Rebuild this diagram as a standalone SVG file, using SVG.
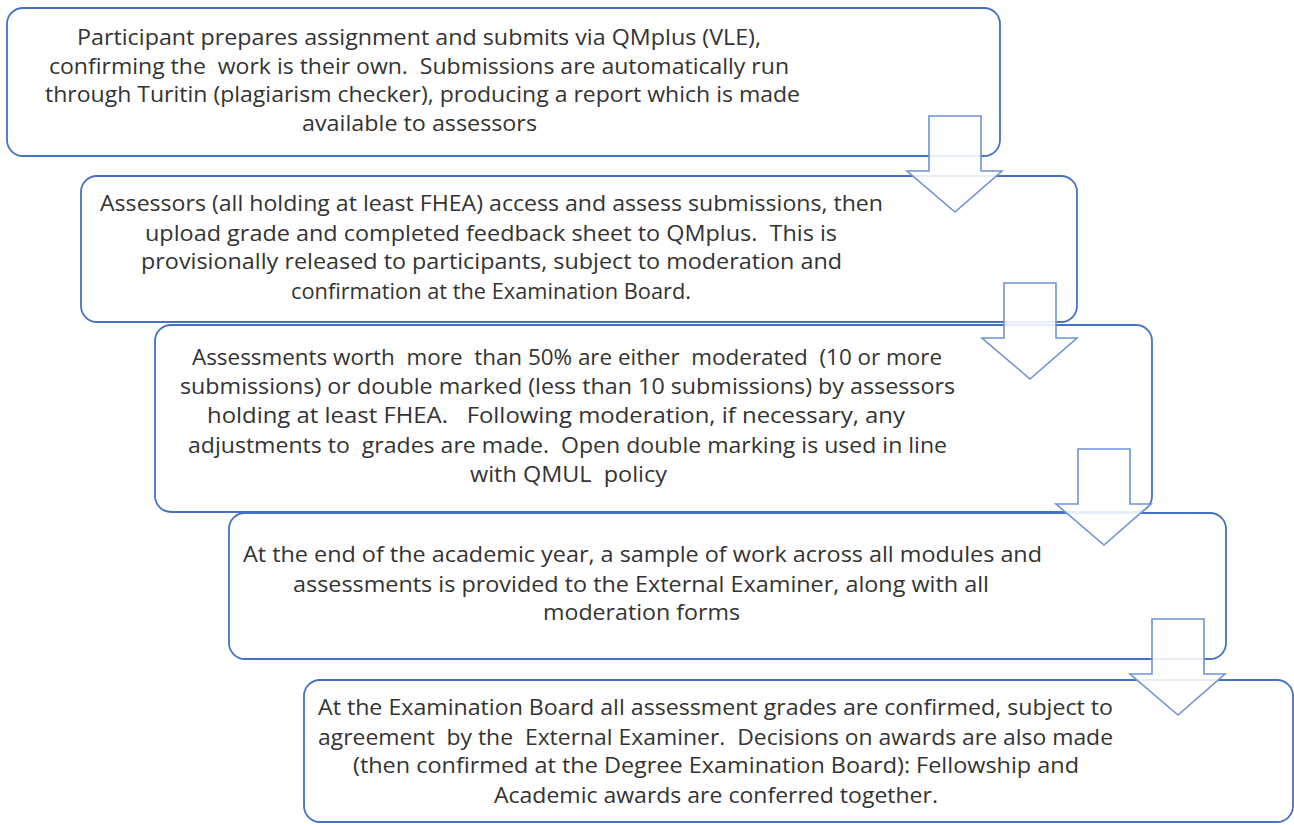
<svg xmlns="http://www.w3.org/2000/svg" width="1294" height="825" viewBox="0 0 1294 825">
<defs>
<style>
.box{fill:#ffffff;stroke:#4472C4;stroke-width:1.8}
.t{font-family:"Open Sans","Liberation Sans",sans-serif;font-size:22px;fill:#333333;white-space:pre}
.arr{fill:#ffffff;fill-opacity:0.88;stroke:#6F93D6;stroke-width:1.6;stroke-linejoin:miter}
</style>
<path id="arrow" class="arr" d="M -26 0 H 26 V 55 H 47 L 0 96 L -48 55 H -26 Z"/>
</defs>
<rect width="1294" height="825" fill="#ffffff"/>
<g id="node1">
<rect class="box" x="7" y="8" width="993" height="148" rx="16"/>
<text class="t" x="77" y="45" textLength="684" lengthAdjust="spacingAndGlyphs">Participant prepares assignment and submits via QMplus (VLE),</text>
<text class="t" x="49" y="74" textLength="740" lengthAdjust="spacingAndGlyphs">confirming the  work is their own.  Submissions are automatically run</text>
<text class="t" x="45" y="102" textLength="755" lengthAdjust="spacingAndGlyphs">through Turitin (plagiarism checker), producing a report which is made</text>
<text class="t" x="302" y="131" textLength="235" lengthAdjust="spacingAndGlyphs">available to assessors</text>
</g>
<g id="node2">
<rect class="box" x="81" y="176" width="996" height="146" rx="16"/>
<text class="t" x="100" y="211" textLength="783" lengthAdjust="spacingAndGlyphs">Assessors (all holding at least FHEA) access and assess submissions, then</text>
<text class="t" x="145" y="241" textLength="692" lengthAdjust="spacingAndGlyphs">upload grade and completed feedback sheet to QMplus.  This is</text>
<text class="t" x="141" y="269" textLength="701" lengthAdjust="spacingAndGlyphs">provisionally released to participants, subject to moderation and</text>
<text class="t" x="291" y="299" textLength="400" lengthAdjust="spacingAndGlyphs">confirmation at the Examination Board.</text>
</g>
<g id="node3">
<rect class="box" x="155" y="325" width="997" height="187" rx="16"/>
<text class="t" x="192" y="365" textLength="750" lengthAdjust="spacingAndGlyphs">Assessments worth  more  than 50% are either  moderated  (10 or more</text>
<text class="t" x="180" y="394" textLength="775" lengthAdjust="spacingAndGlyphs">submissions) or double marked (less than 10 submissions) by assessors</text>
<text class="t" x="207" y="423" textLength="698" lengthAdjust="spacingAndGlyphs">holding at least FHEA.   Following moderation, if necessary, any</text>
<text class="t" x="188" y="453" textLength="759" lengthAdjust="spacingAndGlyphs">adjustments to  grades are made.  Open double marking is used in line</text>
<text class="t" x="470" y="482" textLength="197" lengthAdjust="spacingAndGlyphs">with QMUL  policy</text>
</g>
<g id="node4">
<rect class="box" x="229" y="513" width="997" height="146" rx="16"/>
<text class="t" x="243" y="562" textLength="799" lengthAdjust="spacingAndGlyphs">At the end of the academic year, a sample of work across all modules and</text>
<text class="t" x="293" y="592" textLength="696" lengthAdjust="spacingAndGlyphs">assessments is provided to the External Examiner, along with all</text>
<text class="t" x="543" y="620" textLength="197" lengthAdjust="spacingAndGlyphs">moderation forms</text>
</g>
<g id="node5">
<rect class="box" x="304" y="680" width="989" height="142" rx="16"/>
<text class="t" x="318" y="715" textLength="795" lengthAdjust="spacingAndGlyphs">At the Examination Board all assessment grades are confirmed, subject to</text>
<text class="t" x="318" y="745" textLength="795" lengthAdjust="spacingAndGlyphs">agreement  by the  External Examiner.  Decisions on awards are also made</text>
<text class="t" x="353" y="773" textLength="726" lengthAdjust="spacingAndGlyphs">(then confirmed at the Degree Examination Board): Fellowship and</text>
<text class="t" x="494" y="803" textLength="444" lengthAdjust="spacingAndGlyphs">Academic awards are conferred together.</text>
</g>
<g id="connectors">
<use href="#arrow" x="955" y="116"/>
<use href="#arrow" x="1030" y="283"/>
<use href="#arrow" x="1104" y="449"/>
<use href="#arrow" x="1178" y="619"/>
</g>
</svg>
